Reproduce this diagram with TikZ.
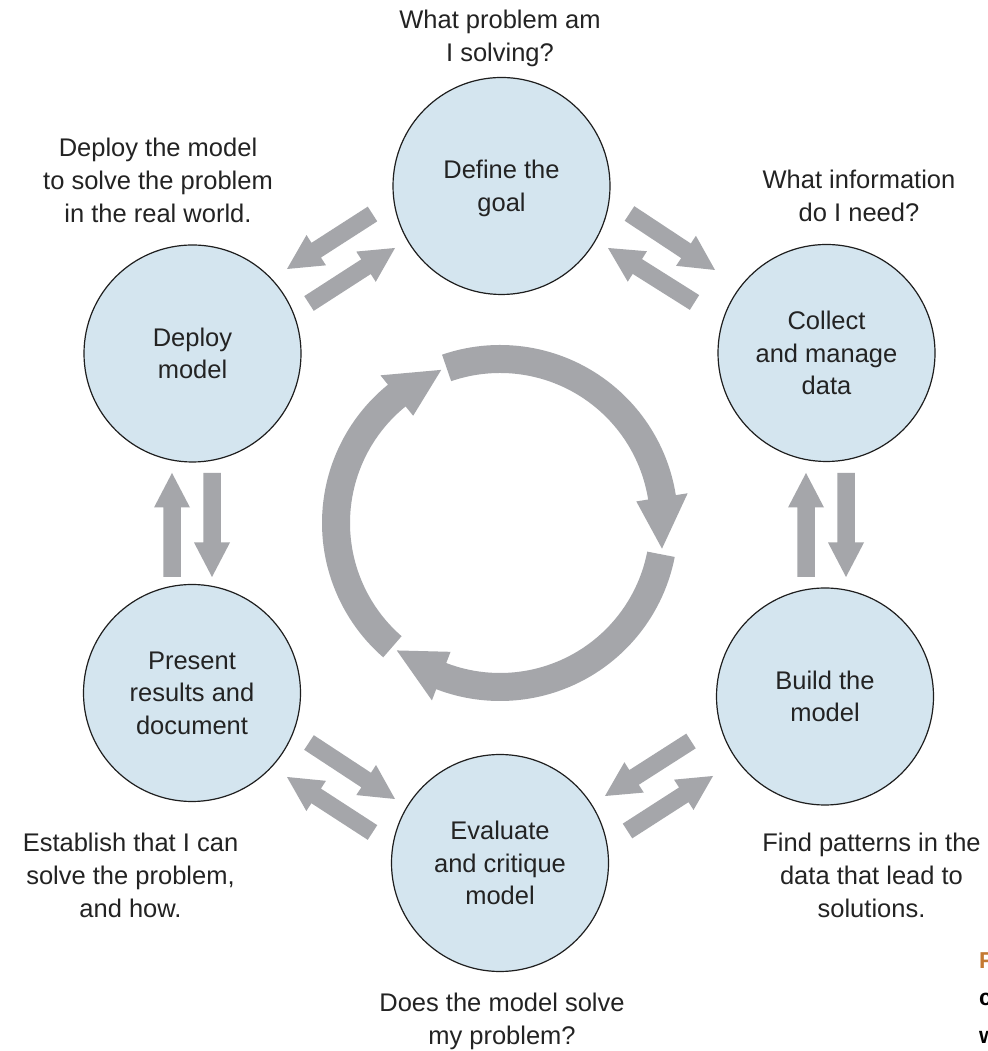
\documentclass[tikz,border=0pt]{standalone}
\usepackage{fontspec}
\setmainfont{Liberation Sans}
\usetikzlibrary{calc}
\definecolor{circfill}{RGB}{212,229,239}
\definecolor{circline}{RGB}{30,30,30}
\definecolor{arrowgray}{RGB}{165,166,170}
\definecolor{txt}{RGB}{35,35,35}
\definecolor{capor}{RGB}{196,121,50}
\newcommand\myfatarrow[2]{%
  \fill[arrowgray] let \p1=(#1), \p2=(#2),
      \n1={atan2(\y2-\y1,\x2-\x1)},
      \n2={veclen(\x2-\x1,\y2-\y1)-34.5}
    in ($(\p1)+(\n1+90:8.75)$)
    -- ($(\p1)+(\n1:\n2)+(\n1+90:8.75)$)
    -- ($(\p1)+(\n1:\n2)+(\n1+90:18)$)
    -- (\p2)
    -- ($(\p1)+(\n1:\n2)+(\n1-90:18)$)
    -- ($(\p1)+(\n1:\n2)+(\n1-90:8.75)$)
    -- ($(\p1)+(\n1-90:8.75)$) -- cycle;}
\begin{document}
\begin{tikzpicture}[x=1pt,y=1pt,
  stage/.style={circle, draw=circline, line width=1.2pt, fill=circfill,
    minimum size=217pt, inner sep=0pt, align=center, text=txt,
    font=\fontsize{25.5}{32.5}\selectfont},
  note/.style={align=center, text=txt, inner sep=0pt,
    font=\fontsize{25.5}{33}\selectfont},
  frag/.style={anchor=base west, inner sep=0pt,
    font=\bfseries\fontsize{23}{23}\selectfont}]
\useasboundingbox (0,0) rectangle (987,1051);
\fill[white] (0,0) rectangle (987,1051);

% stages
\node[stage] (def) at (501.5,865) {Define the\\\raisebox{0pt}[\height][0pt]{goal}};
\node[stage] (col) at (826.5,698) {Collect\\and manage\\data};
\node[stage] (bld) at (825,354.5) {Build the\\model};
\node[stage] (evl) at (500,188) {Evaluate\\and critique\\model};
\node[stage] (prs) at (192,358) {Present\\results and\\document};
\node[stage] (dep) at (192.5,697.5) {Deploy\\model};

% outer notes
\node[note] (n1) at (500,1012.1) {What problem am\\I solving?};
\node[note] (n2) at (158,870.8) {Deploy the model\\to solve the problem\\in the real world.};
\node[note] (n3) at (859,854.8) {What information\\do I need?};
\node[note] (n4) at (130.5,175.3) {Establish that I can\\solve the problem,\\and how.};
\node[note] (n5) at (871.5,175.3) {Find patterns in the\\data that lead to\\solutions.};
\node[note] (n6) at (502,29.1) {Does the model solve\\my problem?};

% arrow end points
\coordinate (a1t) at (372.5,837);  \coordinate (a1h) at (287,782);
\coordinate (a2t) at (309,747.5);  \coordinate (a2h) at (395,803);
\coordinate (b1t) at (629.5,837.5);\coordinate (b1h) at (715,781);
\coordinate (b2t) at (694.5,748.5);\coordinate (b2h) at (608,803);
\coordinate (c1t) at (172,474);    \coordinate (c1h) at (172,578);
\coordinate (c2t) at (212,578);    \coordinate (c2h) at (212,474);
\coordinate (d1t) at (806,474);    \coordinate (d1h) at (806,578);
\coordinate (d2t) at (846,578);    \coordinate (d2h) at (846,474);
\coordinate (e1t) at (309,308.5);  \coordinate (e1h) at (395,252);
\coordinate (e2t) at (372.5,218.5);\coordinate (e2h) at (287,274);
\coordinate (f1t) at (691,310);    \coordinate (f1h) at (605,255);
\coordinate (f2t) at (627.5,220);  \coordinate (f2h) at (713,275);

\myfatarrow{a1t}{a1h}
\myfatarrow{a2t}{a2h}
\myfatarrow{b1t}{b1h}
\myfatarrow{b2t}{b2h}
\myfatarrow{c1t}{c1h}
\myfatarrow{c2t}{c2h}
\myfatarrow{d1t}{d1h}
\myfatarrow{d2t}{d2h}
\myfatarrow{e1t}{e1h}
\myfatarrow{e2t}{e2h}
\myfatarrow{f1t}{f1h}
\myfatarrow{f2t}{f2h}

% central cycle
\begin{scope}[shift={(500,528)}]
\foreach \t/\b/\q in {109/9/-9, -11/-111/-129, 229/129/111}{
  \fill[arrowgray] (\t:178) arc[start angle=\t, end angle=\b, radius=178]
    -- (\b:190) -- (\q:164) -- (\b:138) -- (\b:150)
    arc[start angle=\b, end angle=\t, radius=150] -- cycle;
}
\end{scope}

% cut-off caption fragments at the right edge (cut off in the reference too)
\node[frag, text=capor] (fr1) at (979,82) {F};
\node[frag, text=black] (fr2) at (979,45) {c};
\node[frag, text=black] (fr3) at (979,8) {w};
\end{tikzpicture}
\end{document}
